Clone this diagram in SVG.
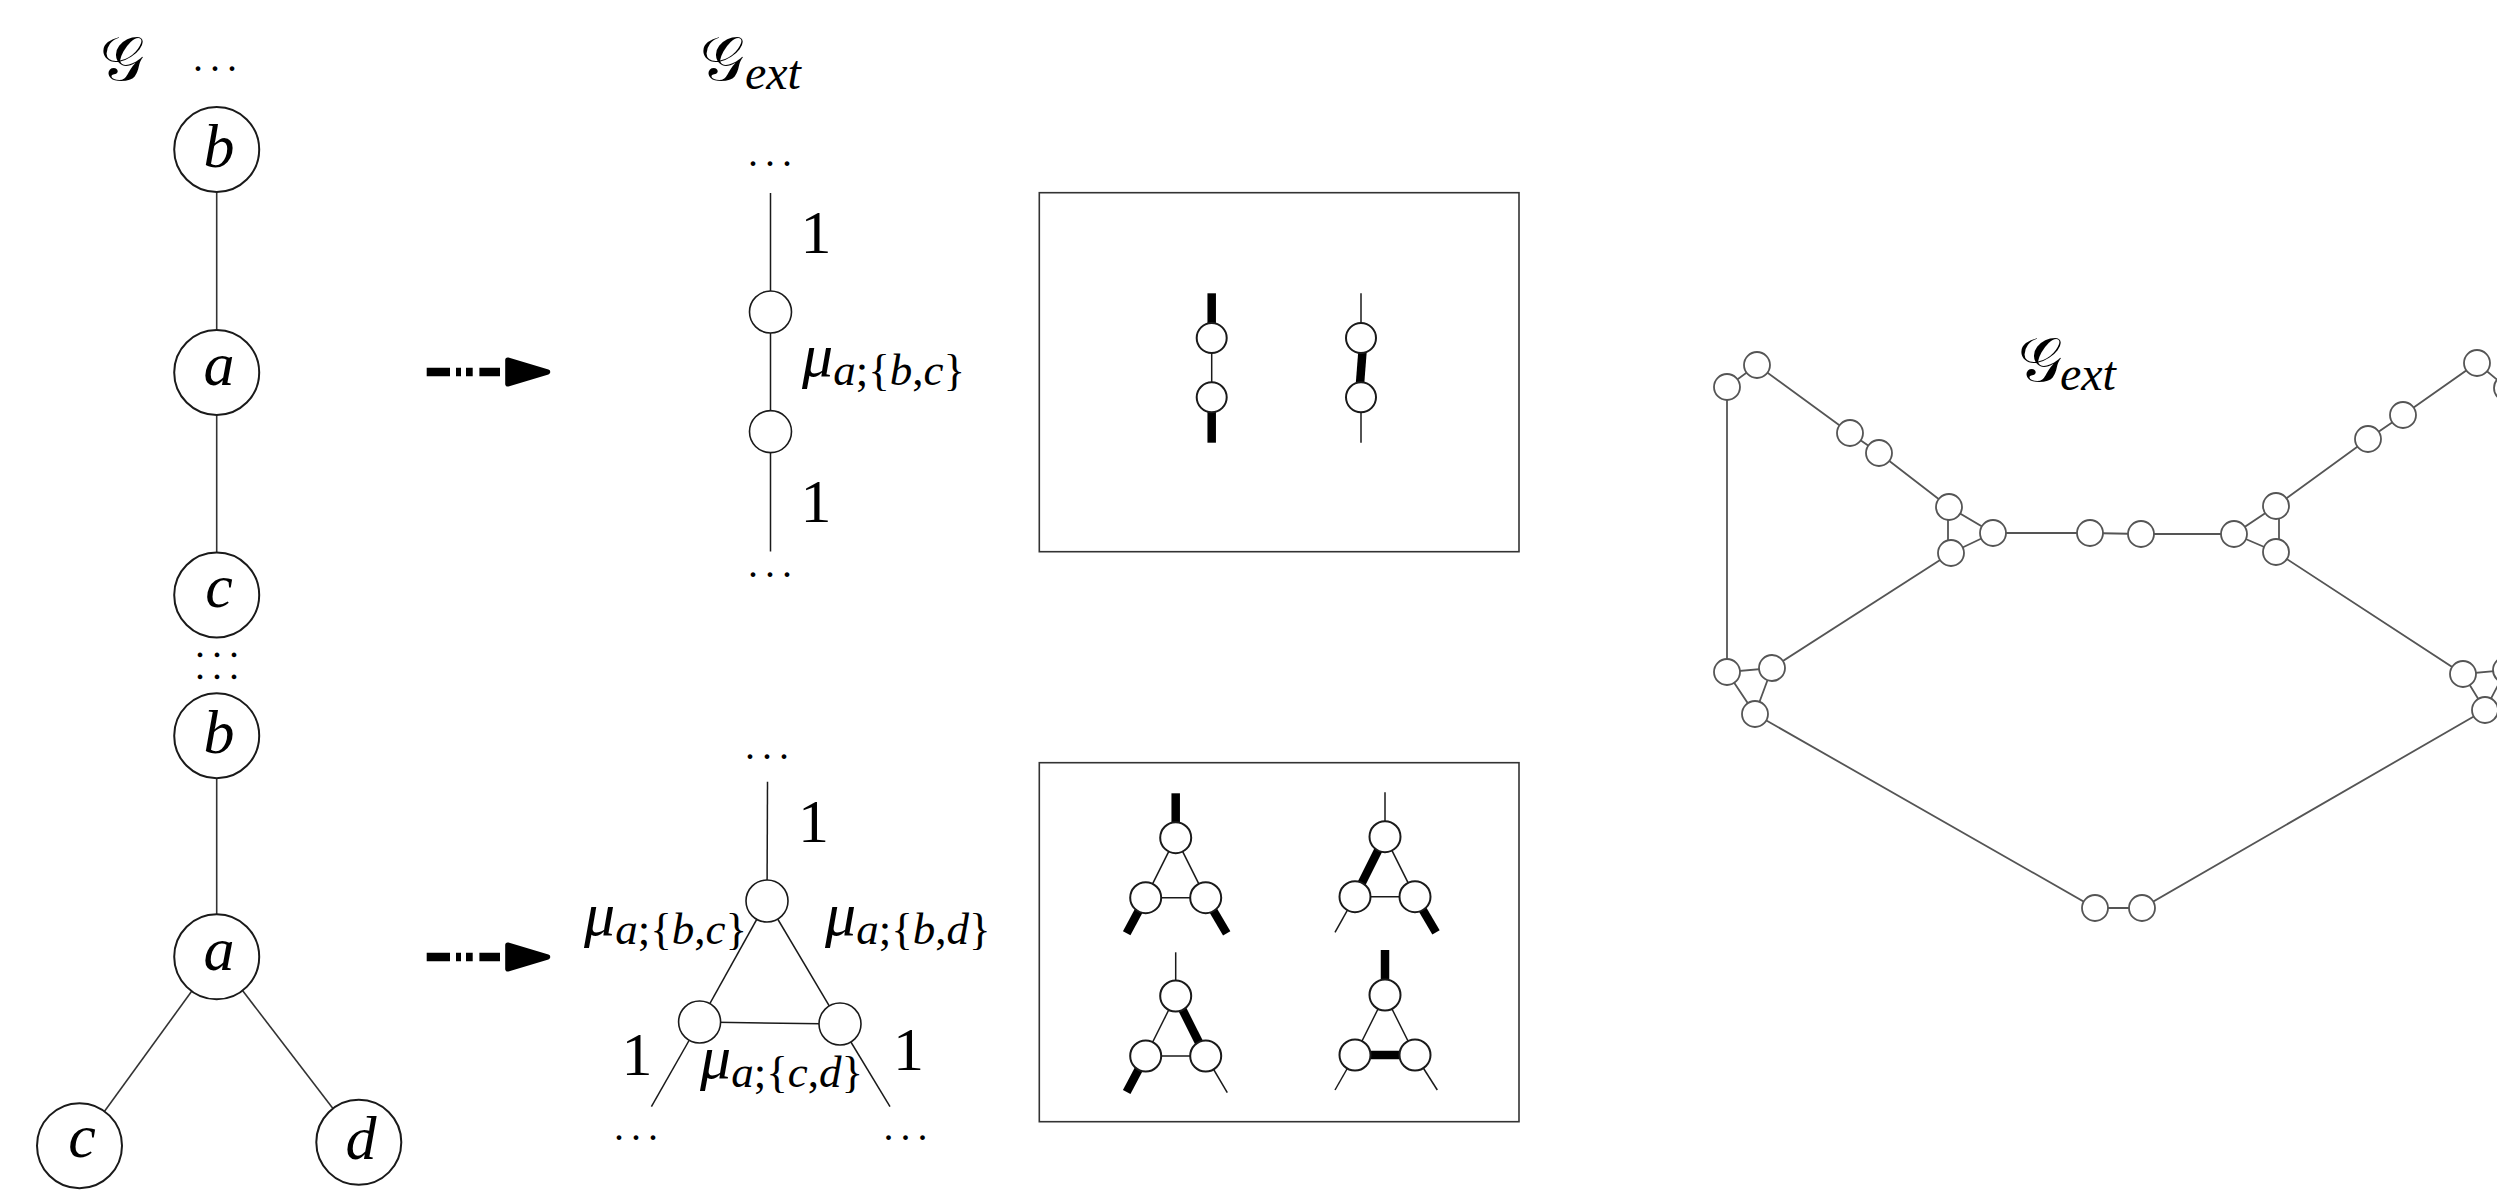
<svg xmlns="http://www.w3.org/2000/svg" xmlns:xlink="http://www.w3.org/1999/xlink" width="2497" height="1204" viewBox="0 0 2497 1204">
  <style>
    .math { font-family: "Liberation Serif", "Times New Roman", "DejaVu Serif", serif; fill: #000; }
    .it { font-style: italic; }
    .cal { font-family: "DejaVu Serif", "DejaVu Sans", "Noto Sans", serif; font-style: normal; fill: #000; }
    .dots { font-family: "Liberation Serif", "DejaVu Serif", serif; font-size: 40px; letter-spacing: 7px; fill: #000; }
    .dots-sm { font-family: "Liberation Serif", "DejaVu Serif", serif; font-size: 18px; letter-spacing: 12.5px; fill: #000; stroke: #000; stroke-width: 2.5; }
    .node { fill: #fff; stroke: #1a1a1a; stroke-width: 2; }
    .edge { stroke: #333; stroke-width: 1.6; fill: none; }
    .pnode { fill: #fff; stroke: #1a1a1a; stroke-width: 1.6; }
    .pedge { stroke: #1a1a1a; stroke-width: 1.5; fill: none; }
    .thick { stroke: #000; stroke-width: 8.5; fill: none; }
    .gnode { fill: #fff; stroke: #555; stroke-width: 1.8; }
    .gedge { stroke: #555; stroke-width: 1.8; fill: none; }
    .frame { fill: none; stroke: #333; stroke-width: 1.6; }
  </style>
  <defs>
    <!-- thick dash-dot arrow with a rounded triangular head -->
    <g id="dashArrow">
      <path d="M0 0 H23.3 M29.3 0 H34.3 M39.3 0 H46 M52.7 0 H73.3" stroke="#000" stroke-width="8.5" fill="none"/>
      <polygon points="81,-12 121,0 81,12" fill="#000" stroke="#000" stroke-width="5" stroke-linejoin="round"/>
    </g>
  </defs>
  <rect width="2497" height="1204" fill="#fff"/>

  <!-- ===== original graph G ===== -->
  <text class="cal" x="100" y="80" font-size="62">𝒢</text>
  <text class="dots" x="193" y="71.3">...</text>
  <g id="G-connectors">
    <line class="edge" x1="216.7" y1="149.5" x2="216.7" y2="372.5"/>
    <line class="edge" x1="216.7" y1="372.5" x2="216.7" y2="595"/>
    <line class="edge" x1="216.7" y1="735.7" x2="216.7" y2="956.8"/>
    <line class="edge" x1="216.7" y1="956.8" x2="79.5" y2="1145.7"/>
    <line class="edge" x1="216.7" y1="956.8" x2="358.8" y2="1142.3"/>
  </g>
  <g id="node-b1"><circle class="node" cx="216.7" cy="149.5" r="42.5"/><text class="math it" x="219" y="167" font-size="62" text-anchor="middle">b</text></g>
  <g id="node-a1"><circle class="node" cx="216.7" cy="372.5" r="42.5"/><text class="math it" x="219" y="385" font-size="62" text-anchor="middle">a</text></g>
  <g id="node-c1"><circle class="node" cx="216.7" cy="595" r="42.5"/><text class="math it" x="219" y="607" font-size="62" text-anchor="middle">c</text></g>
  <!-- vertical gap marker: two rows of dots -->
  <text class="dots-sm" x="197.8" y="656">...</text>
  <text class="dots-sm" x="197.8" y="678">...</text>
  <g id="node-b2"><circle class="node" cx="216.7" cy="735.7" r="42.5"/><text class="math it" x="219" y="753" font-size="62" text-anchor="middle">b</text></g>
  <g id="node-a2"><circle class="node" cx="216.7" cy="956.8" r="42.5"/><text class="math it" x="219" y="969.5" font-size="62" text-anchor="middle">a</text></g>
  <g id="node-c2"><circle class="node" cx="79.5" cy="1145.7" r="42.5"/><text class="math it" x="82" y="1157.3" font-size="62" text-anchor="middle">c</text></g>
  <g id="node-d2"><circle class="node" cx="358.8" cy="1142.3" r="42.5"/><text class="math it" x="361" y="1159" font-size="62" text-anchor="middle">d</text></g>

  <!-- transformation arrows -->
  <g id="arrows">
    <use xlink:href="#dashArrow" x="426.7" y="372"/>
    <use xlink:href="#dashArrow" x="426.7" y="957"/>
  </g>

  <!-- ===== extended graph pieces ===== -->
  <text class="cal" x="700" y="80" font-size="62">𝒢</text>
  <text class="math it" x="745" y="89" font-size="48">ext</text>

  <!-- path case -->
  <g id="ext-path">
    <text class="dots" x="748" y="166">...</text>
    <line class="pedge" x1="770.5" y1="193" x2="770.5" y2="551.6"/>
    <circle class="pnode" cx="770.5" cy="312" r="21"/>
    <circle class="pnode" cx="770.5" cy="431.6" r="21"/>
    <text class="math" x="816" y="253" font-size="62" text-anchor="middle">1</text>
    <text class="math" x="816" y="522" font-size="62" text-anchor="middle">1</text>
    <text class="math" x="802" y="376" font-size="62"><tspan class="it">μ</tspan><tspan font-size="45" dy="9"><tspan class="it">a</tspan>;{<tspan class="it">b</tspan>,<tspan class="it">c</tspan>}</tspan></text>
    <text class="dots" x="748" y="577.3">...</text>
  </g>

  <!-- branching case -->
  <g id="ext-triangle">
    <text class="dots" x="745" y="758.7">...</text>
    <line class="pedge" x1="767.5" y1="781.7" x2="767" y2="901"/>
    <line class="pedge" x1="767" y1="901" x2="699.6" y2="1022"/>
    <line class="pedge" x1="767" y1="901" x2="840" y2="1024"/>
    <line class="pedge" x1="699.6" y1="1022" x2="840" y2="1024"/>
    <line class="pedge" x1="699.6" y1="1022" x2="651.4" y2="1106.7"/>
    <line class="pedge" x1="840" y1="1024" x2="890" y2="1106.7"/>
    <circle class="pnode" cx="767" cy="901" r="21"/>
    <circle class="pnode" cx="699.6" cy="1022" r="21"/>
    <circle class="pnode" cx="840" cy="1024" r="21"/>
    <text class="math" x="813.5" y="841.7" font-size="62" text-anchor="middle">1</text>
    <text class="math" x="637" y="1075" font-size="62" text-anchor="middle">1</text>
    <text class="math" x="908.5" y="1070" font-size="62" text-anchor="middle">1</text>
    <text class="math" x="584" y="935" font-size="62"><tspan class="it">μ</tspan><tspan font-size="45" dy="9"><tspan class="it">a</tspan>;{<tspan class="it">b</tspan>,<tspan class="it">c</tspan>}</tspan></text>
    <text class="math" x="825" y="935" font-size="62"><tspan class="it">μ</tspan><tspan font-size="45" dy="9"><tspan class="it">a</tspan>;{<tspan class="it">b</tspan>,<tspan class="it">d</tspan>}</tspan></text>
    <text class="math" x="700" y="1078" font-size="62"><tspan class="it">μ</tspan><tspan font-size="45" dy="9"><tspan class="it">a</tspan>;{<tspan class="it">c</tspan>,<tspan class="it">d</tspan>}</tspan></text>
    <text class="dots" x="614" y="1140">...</text>
    <text class="dots" x="883.5" y="1140">...</text>
  </g>

  <!-- ===== admissible choices for the path case ===== -->
  <g id="box-path">
    <rect class="frame" x="1039.3" y="192.7" width="479.7" height="359"/>
    <line class="thick" x1="1211.7" y1="293.3" x2="1211.7" y2="338"/>
    <line class="pedge" x1="1211.7" y1="338" x2="1211.7" y2="397.3"/>
    <line class="thick" x1="1211.7" y1="397.3" x2="1211.7" y2="442.7"/>
    <circle class="node" cx="1211.7" cy="338" r="15"/>
    <circle class="node" cx="1211.7" cy="397.3" r="15"/>
    <line class="pedge" x1="1361" y1="293.3" x2="1361" y2="338"/>
    <line class="thick" x1="1363" y1="345" x2="1359.5" y2="390"/>
    <line class="pedge" x1="1361" y1="397.3" x2="1361" y2="442.7"/>
    <circle class="node" cx="1361" cy="338" r="15"/>
    <circle class="node" cx="1361" cy="397.3" r="15"/>
  </g>

  <!-- ===== admissible choices for the branching case ===== -->
  <g id="box-triangle">
    <rect class="frame" x="1039.3" y="762.7" width="479.7" height="359"/>
    <g transform="translate(1175.7,837.7)">
      <line class="thick" x1="0" y1="-44.4" x2="0" y2="0"/>
      <line class="pedge" x1="0" y1="0" x2="-30" y2="60"/>
      <line class="pedge" x1="0" y1="0" x2="30" y2="60"/>
      <line class="pedge" x1="-30" y1="60" x2="30" y2="60"/>
      <line class="thick" x1="-30" y1="60" x2="-49" y2="95.6"/>
      <line class="thick" x1="30" y1="60" x2="51" y2="95.6"/>
      <circle class="node" cx="0" cy="0" r="15.5"/>
      <circle class="node" cx="-30" cy="60" r="15.5"/>
      <circle class="node" cx="30" cy="60" r="15.5"/>
    </g>
    <g transform="translate(1385,836.7)">
      <line class="pedge" x1="0" y1="-44.4" x2="0" y2="0"/>
      <line class="thick" x1="0" y1="0" x2="-30" y2="60"/>
      <line class="pedge" x1="0" y1="0" x2="30" y2="60"/>
      <line class="pedge" x1="-30" y1="60" x2="30" y2="60"/>
      <line class="pedge" x1="-30" y1="60" x2="-50" y2="95.6"/>
      <line class="thick" x1="30" y1="60" x2="51" y2="95.6"/>
      <circle class="node" cx="0" cy="0" r="15.5"/>
      <circle class="node" cx="-30" cy="60" r="15.5"/>
      <circle class="node" cx="30" cy="60" r="15.5"/>
    </g>
    <g transform="translate(1175.7,996)">
      <line class="pedge" x1="0" y1="-43.7" x2="0" y2="0"/>
      <line class="pedge" x1="0" y1="0" x2="-30" y2="60"/>
      <line class="thick" x1="0" y1="0" x2="30" y2="60"/>
      <line class="pedge" x1="-30" y1="60" x2="30" y2="60"/>
      <line class="thick" x1="-30" y1="60" x2="-49" y2="96"/>
      <line class="pedge" x1="30" y1="60" x2="51.6" y2="96.7"/>
      <circle class="node" cx="0" cy="0" r="15.5"/>
      <circle class="node" cx="-30" cy="60" r="15.5"/>
      <circle class="node" cx="30" cy="60" r="15.5"/>
    </g>
    <g transform="translate(1385,995)">
      <line class="thick" x1="0" y1="-45" x2="0" y2="0"/>
      <line class="pedge" x1="0" y1="0" x2="-30" y2="60"/>
      <line class="pedge" x1="0" y1="0" x2="30" y2="60"/>
      <line class="thick" x1="-30" y1="60" x2="30" y2="60"/>
      <line class="pedge" x1="-30" y1="60" x2="-50" y2="95"/>
      <line class="pedge" x1="30" y1="60" x2="52.3" y2="95"/>
      <circle class="node" cx="0" cy="0" r="15.5"/>
      <circle class="node" cx="-30" cy="60" r="15.5"/>
      <circle class="node" cx="30" cy="60" r="15.5"/>
    </g>
  </g>

  <!-- ===== full extended graph ===== -->
  <text class="cal" x="2018" y="381" font-size="62">𝒢</text>
  <text class="math it" x="2060" y="390" font-size="48">ext</text>
  <g id="Gext-connectors">
    <path class="gedge" d="M1727 387 L1757 365 L1850 433 L1879 453 L1949 507"/>
    <path class="gedge" d="M1948 507 L1948 553"/>
    <path class="gedge" d="M1949 507 L1993 533 L1951 553"/>
    <path class="gedge" d="M1993 533 L2090 533 L2141 534 L2234 534 L2276 506"/>
    <path class="gedge" d="M2234 534 L2276 552"/>
    <path class="gedge" d="M2279 506 L2279 552"/>
    <path class="gedge" d="M2276 506 L2368 439 L2403 415 L2477 363 L2507 388"/>
    <path class="gedge" d="M2276 552 L2463 674 L2506 670 L2485 710 L2463 674"/>
    <path class="gedge" d="M2485 710 L2142 908 L2095 908 L1755 714"/>
    <path class="gedge" d="M1755 714 L1727 672 L1772 668 L1755 714"/>
    <path class="gedge" d="M1772 668 L1951 553"/>
    <path class="gedge" d="M1727 387 L1727 672"/>
  </g>
  <g id="Gext-nodes">
    <circle class="gnode" cx="1727" cy="387" r="13"/>
    <circle class="gnode" cx="1757" cy="365" r="13"/>
    <circle class="gnode" cx="1850" cy="433" r="13"/>
    <circle class="gnode" cx="1879" cy="453" r="13"/>
    <circle class="gnode" cx="1949" cy="507" r="13"/>
    <circle class="gnode" cx="1951" cy="553" r="13"/>
    <circle class="gnode" cx="1993" cy="533" r="13"/>
    <circle class="gnode" cx="2090" cy="533" r="13"/>
    <circle class="gnode" cx="2141" cy="534" r="13"/>
    <circle class="gnode" cx="2234" cy="534" r="13"/>
    <circle class="gnode" cx="2276" cy="506" r="13"/>
    <circle class="gnode" cx="2276" cy="552" r="13"/>
    <circle class="gnode" cx="2368" cy="439" r="13"/>
    <circle class="gnode" cx="2403" cy="415" r="13"/>
    <circle class="gnode" cx="2477" cy="363" r="13"/>
    <circle class="gnode" cx="2507" cy="388" r="13"/>
    <circle class="gnode" cx="1727" cy="672" r="13"/>
    <circle class="gnode" cx="1772" cy="668" r="13"/>
    <circle class="gnode" cx="1755" cy="714" r="13"/>
    <circle class="gnode" cx="2463" cy="674" r="13"/>
    <circle class="gnode" cx="2506" cy="670" r="13"/>
    <circle class="gnode" cx="2485" cy="710" r="13"/>
    <circle class="gnode" cx="2095" cy="908" r="13"/>
    <circle class="gnode" cx="2142" cy="908" r="13"/>
  </g>
</svg>
